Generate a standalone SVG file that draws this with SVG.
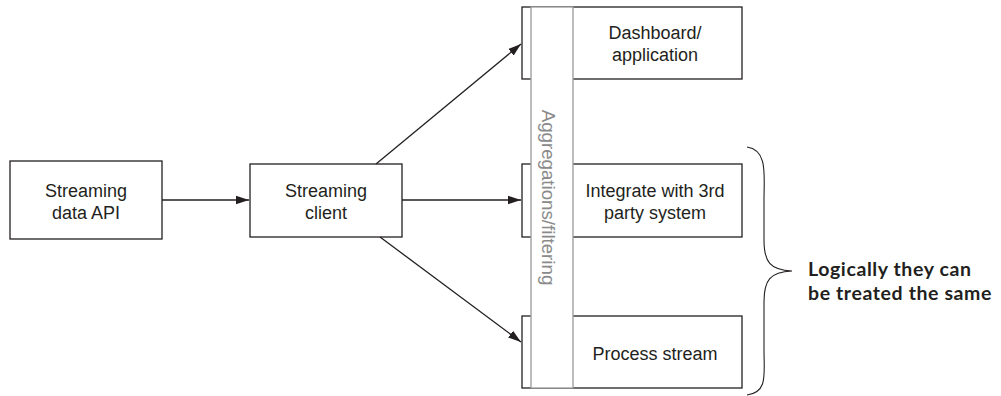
<svg xmlns="http://www.w3.org/2000/svg" width="1001" height="396" viewBox="0 0 1001 396">
<defs>
<style>
.box{fill:#fff;stroke:#231f20;stroke-width:1.3}
.bar{fill:#fff;stroke:#9a9a9a;stroke-width:1.3}
.t{font-family:"Liberation Sans",Arial,sans-serif;font-size:18px;fill:#231f20;text-anchor:middle}
.g{font-family:"Liberation Sans",Arial,sans-serif;font-size:18.7px;fill:#8a8a8a;text-anchor:middle}
.b{font-family:Lato,"Open Sans",sans-serif;font-weight:bold;font-size:19.5px;letter-spacing:0.6px;fill:#231f20}
.c{fill:none;stroke:#231f20;stroke-width:1.3}
</style>
<marker id="ah" markerWidth="14" markerHeight="10" refX="13" refY="5" orient="auto" markerUnits="userSpaceOnUse">
<path d="M0,0.8 L13,5 L0,9.2 Z" fill="#231f20"/>
</marker>
</defs>
<g id="api"><rect class="box" x="10" y="161" width="152" height="78"/><text class="t" x="86" y="197">Streaming</text><text class="t" x="86" y="219">data API</text></g>
<g id="client"><rect class="box" x="250" y="164" width="152" height="73"/><text class="t" x="326" y="197">Streaming</text><text class="t" x="326" y="219">client</text></g>
<g id="dashboard"><rect class="box" x="522" y="7" width="220" height="72"/><text class="t" x="655" y="39">Dashboard/</text><text class="t" x="655" y="61">application</text></g>
<g id="integrate"><rect class="box" x="522" y="164" width="220" height="73"/><text class="t" x="655" y="197">Integrate with 3rd</text><text class="t" x="655" y="219">party system</text></g>
<g id="process"><rect class="box" x="522" y="316" width="220" height="72"/><text class="t" x="655" y="360">Process stream</text></g>
<g id="aggregations"><rect class="bar" x="531" y="7" width="42" height="381"/><text class="g" transform="translate(542,197.5) rotate(90)" x="0" y="0">Aggregations/filtering</text></g>
<g id="connectors">
<line class="c" x1="162" y1="200" x2="249" y2="200" marker-end="url(#ah)"/>
<line class="c" x1="376" y1="164" x2="521" y2="44" marker-end="url(#ah)"/>
<line class="c" x1="402" y1="200" x2="521" y2="200" marker-end="url(#ah)"/>
<line class="c" x1="380" y1="237" x2="521" y2="342" marker-end="url(#ah)"/>
</g>
<g id="brace">
<path d="M747,147 C768,150 764,175 764,200 L764,240 C764,262 770,270 792,271 C770,272 764,280 764,302 L764,350 C764,375 768,392 747,395" fill="none" stroke="#231f20" stroke-width="1.1"/>
<text class="b" x="808" y="276">Logically they can</text>
<text class="b" x="808" y="299.5">be treated the same</text>
</g>
</svg>
